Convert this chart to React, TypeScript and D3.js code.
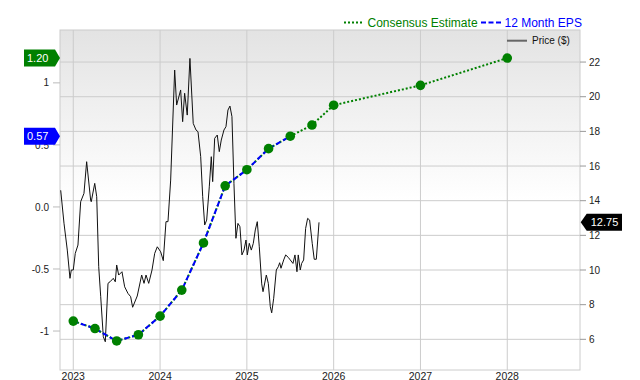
import React from "react";
import * as d3 from "d3";

// ---------- data ----------
const yearTicks = [2023, 2024, 2025, 2026, 2027, 2028];
const priceTicks = [6, 8, 10, 12, 14, 16, 18, 20, 22];
const epsTicks = [1, 0.5, 0, -0.5, -1];
const epsTickLabels = ["1", "0.5", "0.0", "-0.5", "-1"];

const epsPeriods = [2023.0, 2023.25, 2023.5, 2023.75, 2024.0, 2024.25, 2024.5, 2024.75, 2025.0, 2025.25, 2025.5, 2025.75, 2026.0, 2027.0, 2028.0];
const epsValues = [-0.92, -0.98, -1.08, -1.03, -0.88, -0.67, -0.29, 0.17, 0.3, 0.47, 0.57, 0.66, 0.82, 0.98, 1.2];
const reportedCount = 11; // first 11 points are the reported 12 month EPS

const priceDates = [
  2022.855, 2022.893, 2022.931, 2022.962, 2022.977, 2023.0, 2023.023, 2023.054, 2023.085, 2023.123,
  2023.154, 2023.2, 2023.207, 2023.247, 2023.27, 2023.293, 2023.316, 2023.346, 2023.369, 2023.4,
  2023.423, 2023.461, 2023.484, 2023.5, 2023.523, 2023.561, 2023.592, 2023.63, 2023.661, 2023.684,
  2023.737, 2023.788, 2023.815, 2023.838, 2023.869, 2023.907, 2023.938, 2023.968, 2024.007, 2024.037,
  2024.068, 2024.091, 2024.122, 2024.168, 2024.191, 2024.237, 2024.26, 2024.283, 2024.313, 2024.344,
  2024.382, 2024.414, 2024.437, 2024.468, 2024.491, 2024.514, 2024.537, 2024.567, 2024.59, 2024.606,
  2024.629, 2024.659, 2024.682, 2024.705, 2024.736, 2024.759, 2024.782, 2024.805, 2024.828, 2024.851,
  2024.874, 2024.897, 2024.92, 2024.943, 2024.967, 2024.99, 2025.005, 2025.028, 2025.051, 2025.074,
  2025.097, 2025.12, 2025.143, 2025.171, 2025.186, 2025.224, 2025.247, 2025.27, 2025.286, 2025.309,
  2025.339, 2025.362, 2025.378, 2025.393, 2025.424, 2025.447, 2025.477, 2025.5, 2025.531, 2025.554,
  2025.577, 2025.592, 2025.615, 2025.631, 2025.654, 2025.677, 2025.7, 2025.723, 2025.753, 2025.776,
  2025.8, 2025.831,
];
const priceValues = [
  14.6, 12.7, 11.15, 9.52, 10.0, 10.0, 10.96, 11.44, 13.94, 14.42,
  16.25, 14.04, 13.94, 15.0, 14.23, 10.19, 8.46, 6.15, 5.86, 9.23,
  9.32, 9.52, 9.32, 10.29, 9.71, 9.9, 9.03, 8.65, 8.46, 7.85,
  8.5, 9.71, 9.23, 9.71, 9.23, 10.0, 10.96, 11.34, 11.05, 10.54,
  12.79, 12.79, 15.19, 21.54, 19.52, 20.39, 18.56, 20.2, 18.94, 22.21,
  18.46, 18.08, 17.98, 16.54, 14.23, 12.6, 12.88, 14.8, 16.54, 15.1,
  17.6, 17.79, 16.83, 17.5, 18.08, 18.27, 19.23, 19.46, 18.85, 15.0,
  11.83, 12.69, 12.5, 10.87, 11.15, 11.73, 10.87, 11.54, 11.15, 11.54,
  12.31, 12.79, 11.34, 9.2, 8.75, 9.71, 9.23, 7.88, 7.53, 8.37,
  10.0, 10.19, 10.42, 10.1, 10.58, 10.87, 10.73, 10.58, 10.38, 10.87,
  9.9, 10.87, 10.0, 10.38, 10.58, 12.4, 12.98, 12.88, 11.54, 10.62,
  10.62, 12.75,
];

// ---------- layout ----------
const W = 640;
const H = 380;
const L = 60;
const R = 580;
const T = 30;
const B = 370;
const FONT = "'Liberation Sans', Arial, Helvetica, sans-serif";

export default function App() {
  const x = d3.scaleLinear().domain([2022.847, 2028.838]).range([L, R]);
  const yP = d3.scaleLinear().domain([4.23, 23.85]).range([B, T]);
  const yE = d3.scaleLinear().domain([-1.314, 1.426]).range([B, T]);

  const epsPts = epsPeriods.map((p, i) => [p, epsValues[i]] as [number, number]);
  const pricePts = priceDates.map((d, i) => [d, priceValues[i]] as [number, number]);

  const epsLine = d3.line<[number, number]>().x((d) => x(d[0])).y((d) => yE(d[1]));
  const priceLine = d3.line<[number, number]>().x((d) => x(d[0])).y((d) => yP(d[1]));

  const lastReported = epsValues[reportedCount - 1];
  const lastConsensus = epsValues[epsValues.length - 1];
  const lastPrice = priceValues[priceValues.length - 1];

  const leftBadge = (val: number, color: string) => {
    const cy = yE(val);
    const h = 17;
    const path = `M24,${cy - h / 2} L55,${cy - h / 2} L60,${cy} L55,${cy + h / 2} L24,${cy + h / 2} Z`;
    return (
      <g>
        <path d={path} fill={color} />
        <text x={27} y={cy} dy="0.36em" fill="#fff" fontSize={11} fontFamily={FONT}>
          {val.toFixed(2)}
        </text>
      </g>
    );
  };

  const pcy = yP(lastPrice);
  const ph = 17;
  const priceBadgePath = `M${R + 0.7},${pcy} L${R + 6.7},${pcy - ph / 2} L${R + 42},${pcy - ph / 2} L${R + 42},${pcy + ph / 2} L${R + 6.7},${pcy + ph / 2} Z`;

  return (
    <svg
      width={W}
      height={H}
      style={{ position: "absolute", left: 0, top: 0, display: "block" }}
      fontFamily={FONT}
    >
      <defs>
        <linearGradient id="bg" x1="0" y1="0" x2="0" y2="1">
          <stop offset="0%" stopColor="#e3e3e3" />
          <stop offset="50%" stopColor="#ffffff" />
          <stop offset="100%" stopColor="#ffffff" />
        </linearGradient>
      </defs>
      <rect x={0} y={0} width={W} height={H} fill="#fff" />
      <rect x={L} y={T} width={R - L} height={B - T} fill="url(#bg)" />

      {/* grid */}
      {priceTicks.map((t) => (
        <line key={"hg" + t} x1={L} x2={R} y1={yP(t)} y2={yP(t)} stroke="#cccccc" strokeWidth={1} />
      ))}
      {yearTicks.map((t) => (
        <line key={"vg" + t} x1={x(t)} x2={x(t)} y1={T} y2={B} stroke="#cccccc" strokeWidth={1} />
      ))}
      {/* frame */}
      <rect x={L} y={T} width={R - L} height={B - T} fill="none" stroke="#cccccc" strokeWidth={1} />

      {/* right axis */}
      {priceTicks.map((t) => (
        <g key={"pt" + t}>
          <line x1={R} x2={R + 6} y1={yP(t)} y2={yP(t)} stroke="#999" strokeWidth={1} />
          <text x={R + 9} y={yP(t)} dy="0.36em" fontSize={10} fill="#222">
            {t}
          </text>
        </g>
      ))}

      {/* left axis */}
      {epsTicks.map((t, i) => (
        <g key={"et" + t}>
          <line x1={L - 7} x2={L} y1={yE(t)} y2={yE(t)} stroke="#bbb" strokeWidth={1} />
          <text x={L - 11} y={yE(t)} dy="0.36em" fontSize={10} fill="#222" textAnchor="end">
            {epsTickLabels[i]}
          </text>
        </g>
      ))}

      {/* x axis labels */}
      {yearTicks.map((t) => (
        <text key={"xl" + t} x={x(t)} y={380} fontSize={10.5} fill="#222" textAnchor="middle">
          {t}
        </text>
      ))}

      {/* price line */}
      <path d={priceLine(pricePts) || ""} fill="none" stroke="#111" strokeWidth={1} />

      {/* consensus (green dotted) */}
      <path d={epsLine(epsPts) || ""} fill="none" stroke="#008000" strokeWidth={2} strokeDasharray="2,2" />
      {/* 12 month EPS (blue dashed) */}
      <path
        d={epsLine(epsPts.slice(0, reportedCount)) || ""}
        fill="none"
        stroke="#0000ff"
        strokeWidth={2}
        strokeDasharray="5,3"
      />
      {epsPts.map((d, i) => (
        <circle key={"c" + i} cx={x(d[0])} cy={yE(d[1])} r={4.8} fill="#008000" />
      ))}

      {/* badges */}
      {leftBadge(lastConsensus, "#008000")}
      {leftBadge(lastReported, "#0000ff")}
      <path d={priceBadgePath} fill="#000" />
      <text x={R + 24.5} y={pcy} dy="0.36em" fill="#fff" fontSize={11} textAnchor="middle">
        {lastPrice.toFixed(2)}
      </text>

      {/* legend */}
      <line x1={344} x2={362} y1={22.5} y2={22.5} stroke="#008000" strokeWidth={2} strokeDasharray="2,2" />
      <text x={367.5} y={27.3} fontSize={12} fill="#008000">
        Consensus Estimate
      </text>
      <line x1={481} x2={501} y1={22.5} y2={22.5} stroke="#0000ff" strokeWidth={2} strokeDasharray="5,2.5" />
      <text x={504.5} y={27.3} fontSize={12} fill="#0000ff">
        12 Month EPS
      </text>
      <line x1={507} x2={527} y1={40.7} y2={40.7} stroke="#666" strokeWidth={2} />
      <text x={532} y={40.7} dy="0.36em" fontSize={10} fill="#111">
        Price ($)
      </text>
    </svg>
  );
}
